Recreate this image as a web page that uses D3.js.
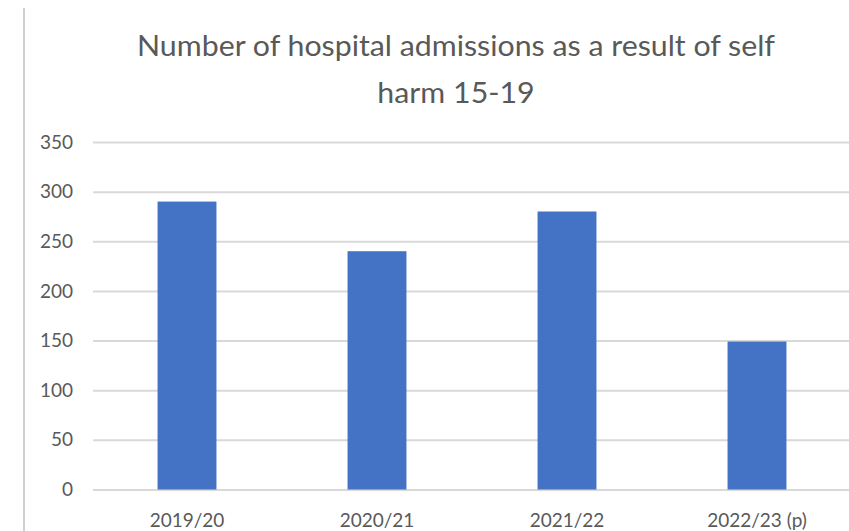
<!DOCTYPE html>
<html>
<head>
<meta charset="utf-8">
<script src="https://cdn.jsdelivr.net/npm/d3@7"></script>
<style>
  html, body { margin: 0; padding: 0; background: #ffffff; }
  svg { display: block; }
</style>
</head>
<body>
<svg id="chart" width="849" height="531"></svg>
<script>
// Hospital admissions as a result of self harm, ages 15-19
const categories = ["2019/20", "2020/21", "2021/22", "2022/23 (p)"];
const admissions = [290, 240, 280, 149];
const yTicks = [0, 50, 100, 150, 200, 250, 300, 350];
const titleLines = ["Number of hospital admissions as a result of self", "harm 15-19"];

const svg = d3.select("#chart");
const W = 849, H = 531;
const font = "Lato, 'Open Sans', sans-serif";
const textColor = "#595959";
const gridColor = "#d9d9d9";
const barColor = "#4472c4";

// frame edge on the left
svg.append("line")
  .attr("x1", 24).attr("x2", 24).attr("y1", 8).attr("y2", H)
  .attr("stroke", "#cfcfcf").attr("stroke-width", 2);

const x = d3.scaleBand()
  .domain(categories)
  .range([92, 852])
  .paddingInner(0.69)
  .paddingOuter(0.345);

const y = d3.scaleLinear()
  .domain([0, 350])
  .range([489.5, 142]);

// horizontal gridlines via the y axis
const yAxis = d3.axisLeft(y)
  .tickValues(yTicks)
  .tickSize(-(W - 93))
  .tickPadding(20)
  .tickFormat(d3.format("d"));

const gy = svg.append("g")
  .attr("transform", "translate(93,0)")
  .call(yAxis);
gy.select(".domain").remove();
gy.selectAll(".tick line")
  .attr("stroke", gridColor)
  .attr("stroke-width", 2);
gy.selectAll(".tick text")
  .attr("fill", textColor)
  .attr("font-family", font)
  .attr("font-size", 19);

// bars
svg.append("g")
  .selectAll("rect")
  .data(categories)
  .join("rect")
  .attr("x", d => x(d))
  .attr("width", x.bandwidth())
  .attr("y", (d, i) => y(admissions[i]))
  .attr("height", (d, i) => y(0) - y(admissions[i]))
  .attr("fill", barColor);

// category axis
const xAxis = d3.axisBottom(x).tickSize(0).tickPadding(24);
const gx = svg.append("g")
  .attr("transform", `translate(0,${y(0)})`)
  .call(xAxis);
gx.select(".domain").remove();
gx.selectAll(".tick text")
  .attr("fill", textColor)
  .attr("font-family", font)
  .attr("font-size", 19);

// title, two centred lines stretched to the title width
const titleWidth = 638;
const titleText = svg.append("g")
  .selectAll("text")
  .data(titleLines)
  .join("text")
  .attr("x", 456)
  .attr("y", (d, i) => 56 + i * 47)
  .attr("text-anchor", "middle")
  .attr("fill", textColor)
  .attr("font-family", font)
  .attr("font-size", 28)
  .text(d => d);
const nodes = titleText.nodes();
const stretch = titleWidth / nodes[0].getComputedTextLength();
titleText.each(function () {
  d3.select(this)
    .attr("textLength", this.getComputedTextLength() * stretch)
    .attr("lengthAdjust", "spacingAndGlyphs");
});
</script>
</body>
</html>
